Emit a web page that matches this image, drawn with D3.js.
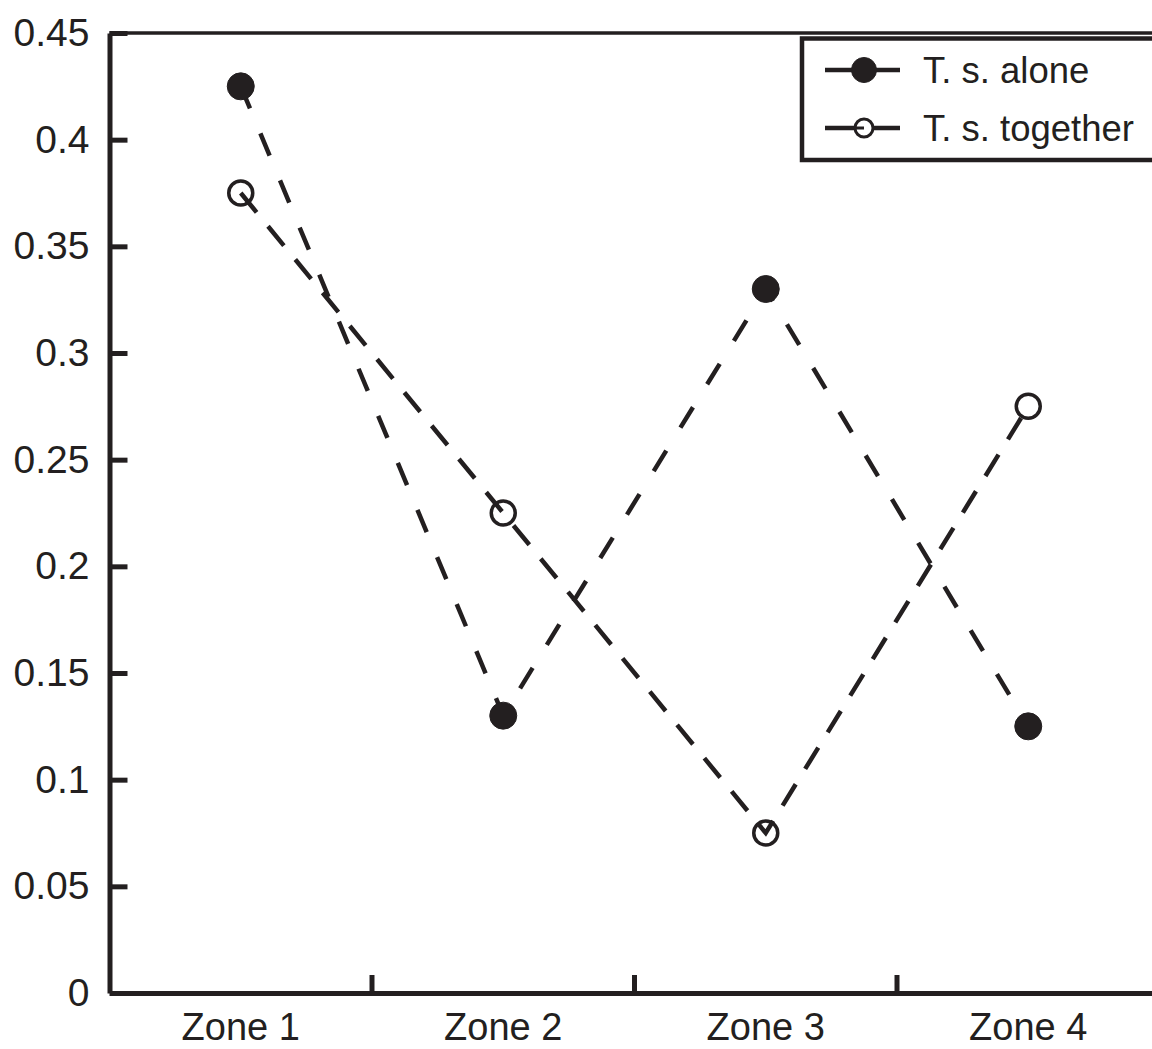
<!DOCTYPE html>
<html>
<head>
<meta charset="utf-8">
<script src="https://cdn.jsdelivr.net/npm/d3@7"></script>
<style>
  html, body { margin: 0; padding: 0; background: #fff; }
  svg { display: block; }
  text { font-family: "Liberation Sans", Arial, Helvetica, sans-serif; fill: #231f20; }
</style>
</head>
<body>
<script>
const categories = ["Zone 1", "Zone 2", "Zone 3", "Zone 4"];
const aloneValues = [0.425, 0.13, 0.33, 0.125];
const togetherValues = [0.375, 0.225, 0.075, 0.275];
const seriesNames = ["T. s. alone", "T. s. together"];
const yTicks = [0, 0.05, 0.1, 0.15, 0.2, 0.25, 0.3, 0.35, 0.4, 0.45];
const yTickLabels = ["0", "0.05", "0.1", "0.15", "0.2", "0.25", "0.3", "0.35", "0.4", "0.45"];

const W = 1152, H = 1049;
const ink = "#231f20";
const svg = d3.select("body").append("svg").attr("width", W).attr("height", H);

const x = d3.scaleBand().domain(categories).range([109.5, 1159.5]);
const y = d3.scaleLinear().domain([0, 0.45]).range([993, 33]);
const cx = c => x(c) + x.bandwidth() / 2;

// top frame line
svg.append("line")
  .attr("x1", 109.5).attr("x2", W + 5)
  .attr("y1", y(0.45)).attr("y2", y(0.45))
  .attr("stroke", ink).attr("stroke-width", 3.5);

// Y axis
const yAxis = svg.append("g").attr("transform", "translate(109.5,0)")
  .call(d3.axisLeft(y).tickValues(yTicks).tickFormat((d, i) => yTickLabels[i])
    .tickSizeInner(-18).tickSizeOuter(0).tickPadding(20));
yAxis.select(".domain").attr("stroke", ink).attr("stroke-width", 5);
yAxis.selectAll(".tick line").attr("stroke", ink).attr("stroke-width", 5);
yAxis.selectAll(".tick text").style("font-size", "39px").attr("fill", ink);

// X axis
const xAxis = svg.append("g").attr("transform", "translate(0,993)")
  .call(d3.axisBottom(x).tickSize(0).tickPadding(20));
xAxis.select(".domain").attr("stroke", ink).attr("stroke-width", 5);
xAxis.selectAll(".tick text").style("font-size", "38px").attr("fill", ink);
// boundary ticks pointing up
svg.append("g").selectAll("line").data(categories.slice(1)).join("line")
  .attr("x1", d => x(d)).attr("x2", d => x(d))
  .attr("y1", 993).attr("y2", 975)
  .attr("stroke", ink).attr("stroke-width", 5);

// series
const series = [
  { name: seriesNames[0], values: aloneValues, filled: true, dash: "24,27" },
  { name: seriesNames[1], values: togetherValues, filled: false, dash: "25,18" }
];
const line = d3.line().x((d, i) => cx(categories[i])).y(d => y(d));

series.forEach(s => {
  svg.append("path").datum(s.values)
    .attr("d", line).attr("fill", "none")
    .attr("stroke", ink).attr("stroke-width", 4.5)
    .attr("stroke-dasharray", s.dash);
  svg.append("g").selectAll("circle").data(s.values).join("circle")
    .attr("cx", (d, i) => cx(categories[i])).attr("cy", d => y(d))
    .attr("r", s.filled ? 13.5 : 12)
    .attr("fill", s.filled ? ink : "none")
    .attr("stroke", ink).attr("stroke-width", s.filled ? 1 : 3.5);
});

// legend
const lg = svg.append("g");
lg.append("rect").attr("x", 802).attr("y", 38.5).attr("width", 420).attr("height", 121.5)
  .attr("fill", "#fff").attr("stroke", ink).attr("stroke-width", 4.5);
series.forEach((s, i) => {
  const ly = 70 + i * 58;
  lg.append("line").attr("x1", 825).attr("x2", 900).attr("y1", ly).attr("y2", ly)
    .attr("stroke", ink).attr("stroke-width", 4.5);
  lg.append("circle").attr("cx", 864).attr("cy", ly)
    .attr("r", s.filled ? 12.5 : 9)
    .attr("fill", s.filled ? ink : "#fff")
    .attr("stroke", ink).attr("stroke-width", s.filled ? 1 : 3);
  if (!s.filled) {
    lg.append("line").attr("x1", 855).attr("x2", 864).attr("y1", ly).attr("y2", ly)
      .attr("stroke", ink).attr("stroke-width", 3);
  }
  lg.append("text").attr("x", 923).attr("y", ly).attr("dy", "0.36em")
    .style("font-size", "36.5px").text(s.name);
});
</script>
</body>
</html>
